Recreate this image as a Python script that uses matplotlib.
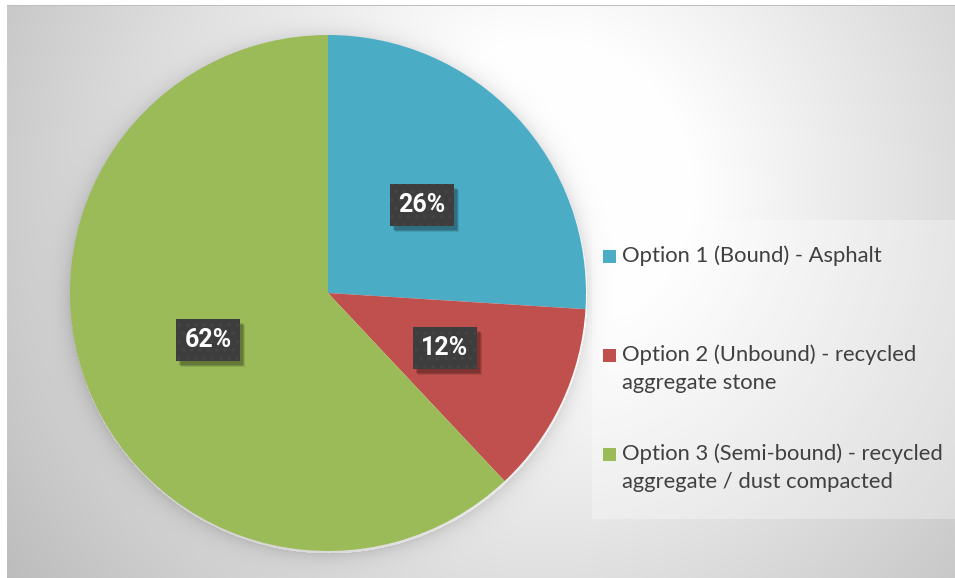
import numpy as np
import matplotlib.pyplot as plt
from matplotlib.patches import Rectangle
from matplotlib import transforms

# data
labels = [
    "Option 1 (Bound) - Asphalt",
    "Option 2 (Unbound) - recycled\naggregate stone",
    "Option 3 (Semi-bound) - recycled\naggregate / dust compacted",
]
shares = [26, 12, 62]
colors = ["#4BACC6", "#C0504D", "#9BBB59"]

W, H = 955, 578
plt.rcParams["font.family"] = ["Lato", "DejaVu Sans"]
plt.rcParams["hatch.linewidth"] = 1.5

fig = plt.figure(figsize=(W / 100, H / 100), dpi=100)

# pie placement in pixels (from top-left)
cx, cy, r = 328, 293, 258

# background: radial gray gradient with a soft shadow round the pie
yy, xx = np.mgrid[0:H, 0:W].astype(float)
d = np.hypot(xx - 540, yy - 190)
bg = np.clip(274 - 0.13 * d, 0, 255)
dp = np.hypot(xx - cx, yy - cy - 2) - r
bg -= np.where(dp > 0, 28 * np.exp(-dp / 9), 0)
bg[5, :] = 190
bg[:5, :] = 255
bg[:, :7] = 255
img = np.dstack([bg, bg, bg]) / 255.0

ax_bg = fig.add_axes([0, 0, 1, 1])
ax_bg.imshow(img, aspect="auto", interpolation="bilinear")
ax_bg.axis("off")

ax = fig.add_axes([(cx - r) / W, (H - cy - r) / H, 2 * r / W, 2 * r / H])
wedges, texts, autotexts = ax.pie(
    shares,
    colors=colors,
    startangle=90,
    counterclock=False,
    radius=1,
    autopct="%d%%",
    pctdistance=0.5,
    wedgeprops=dict(linewidth=0),
    textprops=dict(color="white", family=["Roboto", "DejaVu Sans"],
                   fontsize=18, fontweight="bold"),
)
ax.set_xlim(-1, 1)
ax.set_ylim(-1, 1)
ax.set_aspect("equal")
ax.axis("off")

# dark label boxes (64 x 42 px) with a drop shadow
bw, bh = 64, 42
for t in autotexts:
    x, y = t.get_position()
    at = transforms.ScaledTranslation(x, y, ax.transData)
    for dx, dy, a in [(5, -6, 0.10), (4, -5, 0.15), (3, -4, 0.15)]:
        ax.add_patch(Rectangle((-bw / 2 + dx, -bh / 2 + dy), bw, bh,
                               transform=transforms.Affine2D() + at,
                               facecolor="black", alpha=a, linewidth=0, zorder=2))
    ax.add_patch(Rectangle((-bw / 2, -bh / 2), bw, bh,
                           transform=transforms.Affine2D() + at,
                           facecolor="#3d3d3d", edgecolor="#444444", hatch="..",
                           linewidth=0, zorder=2.5))
    t.set_zorder(3)

# legend panel
fig.patches.append(Rectangle((592 / W, 1 - 519 / H), (W - 592) / W, (519 - 220) / H,
                             transform=fig.transFigure, facecolor="white",
                             alpha=0.3, linewidth=0, zorder=1))
legend_y = [256, 369, 468]
for lab, col, ly in zip(labels, colors, legend_y):
    nlines = lab.count("\n") + 1
    top = ly - (nlines - 1) * 29 / 2
    fig.patches.append(Rectangle((603 / W, 1 - (top + 7) / H), 13 / W, 13 / H,
                                 transform=fig.transFigure, facecolor=col,
                                 linewidth=0, zorder=2))
    fig.text(622 / W, 1 - ly / H, lab, ha="left", va="center", fontsize=15.8,
             color="#404040", linespacing=1.52, zorder=3)

fig.savefig("out.png", dpi=100)
